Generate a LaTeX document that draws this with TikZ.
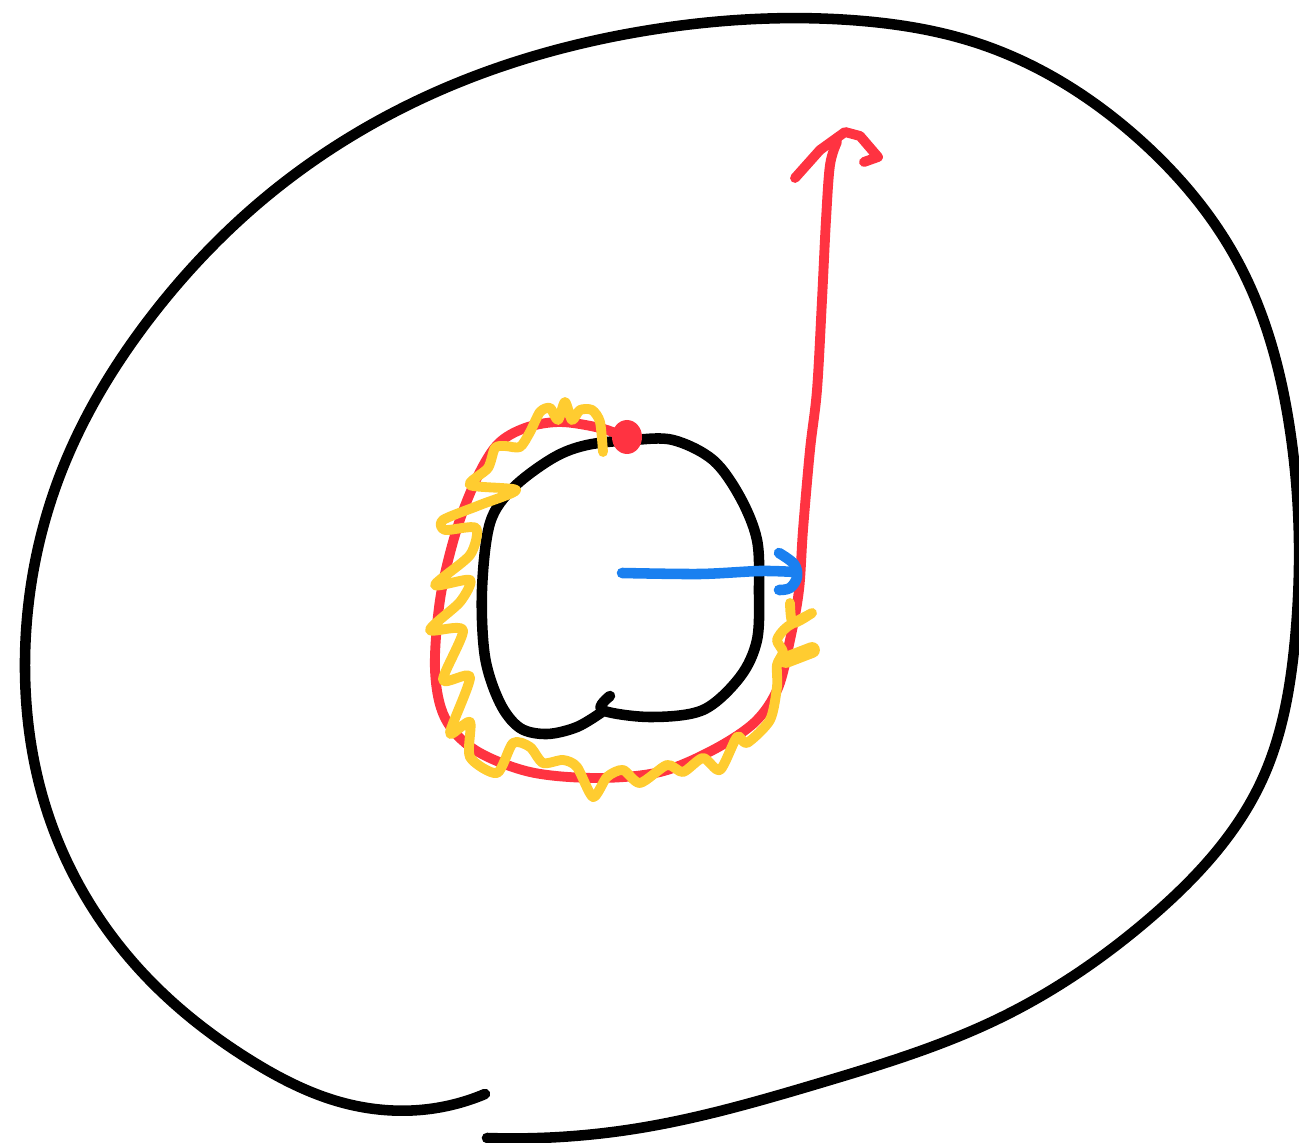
\documentclass[tikz,border=0pt]{standalone}
\usetikzlibrary{hobby}
\begin{document}
\begin{tikzpicture}[x=0.01cm,y=-0.01cm,
  ink/.style={line width=3pt,line cap=round,line join=round},
  blackline/.style={ink,black},
  redline/.style={ink,draw=sred,line width=2.8pt},
  yellowline/.style={ink,draw=syellow,line width=2.8pt},
  blueline/.style={ink,draw=sblue,line width=3pt}]
\definecolor{sred}{HTML}{FF3341}
\definecolor{syellow}{HTML}{FFCC30}
\definecolor{sblue}{HTML}{1A80F0}
\useasboundingbox (0,0) rectangle (1299,1143);
% outer curve
\draw[blackline,use Hobby shortcut] (487,1138) .. (640,1128) .. (820,1083) .. (1000,1018)
 .. (1150,918) .. (1262,780) .. (1295,640) .. (1290,430) .. (1238,262)
 .. (1140,140) .. (980,44) .. (850,20) .. (650,30) .. (450,86) .. (272,192)
 .. (150,318) .. (62,470) .. (25,660) .. (50,820) .. (140,970) .. (250,1060)
 .. (340,1102) .. (420,1110) .. (485,1094);
% inner loop
\draw[blackline] plot[smooth,tension=0.55] coordinates {
 (610,696) (602,710) (650,717) (703,710) (740,677) (757,640)
 (759,590) (757,540) (740,497) (713,460) (673,440) (633,440) (587,445)
 (553,458) (513,488) (490,523) (482,590) (485,657) (500,703) (520,728)
 (547,734) (577,727) (602,712)};
% red path
\draw[redline] plot[smooth,tension=0.55] coordinates {
 (625,437) (600,428) (560,422) (525,428) (497,445) (475,482) (455,535)
 (440,600) (435,670) (445,718) (475,750) (530,772) (597,778) (660,772)
 (713,750) (755,722) (778,688) (790,640) (799,590) (803,530) (810,450)
 (817,390) (822,300) (826,220) (830,165) (837,142)};
\draw[redline] (795,178) -- (820,150) -- (845,132) -- (860,136) -- (878,157) -- (864,162);
\fill[sred] (627,437) ellipse [x radius=15,y radius=17];
% yellow wiggle
\draw[yellowline] plot[smooth,tension=0.45] coordinates {
 (603,452) (600,422) (592,410) (580,410) (572,420) (565,402) (558,420)
 (550,408) (540,412) (530,432) (520,447) (505,446) (495,448) (488,468)
 (470,485) (516,490) (480,505) (443,520) (445,530) (476,528) (470,555)
 (435,585) (470,580) (460,602) (430,630) (463,630) (443,680) (470,677)
 (450,733) (470,722) (470,757) (497,773) (513,743) (530,747) (543,763)
 (563,760) (577,767) (593,797) (607,777) (623,770) (640,783) (667,765)
 (683,772) (703,758) (720,770) (737,737) (747,743) (770,720) (777,687)
 (777,665) (783,652) (777,640) (787,627) (812,613) (793,623) (790,603)};
\draw[yellowline,line width=4.5pt] (786,660) -- (812,650);
% blue arrow
\draw[blueline] plot[smooth,tension=0.5] coordinates {(622,573) (700,574) (760,571) (795,572)};
\draw[blueline] plot[smooth,tension=0.6] coordinates {(779,553) (794,564) (797,577) (790,588) (779,590)};
\end{tikzpicture}
\end{document}
